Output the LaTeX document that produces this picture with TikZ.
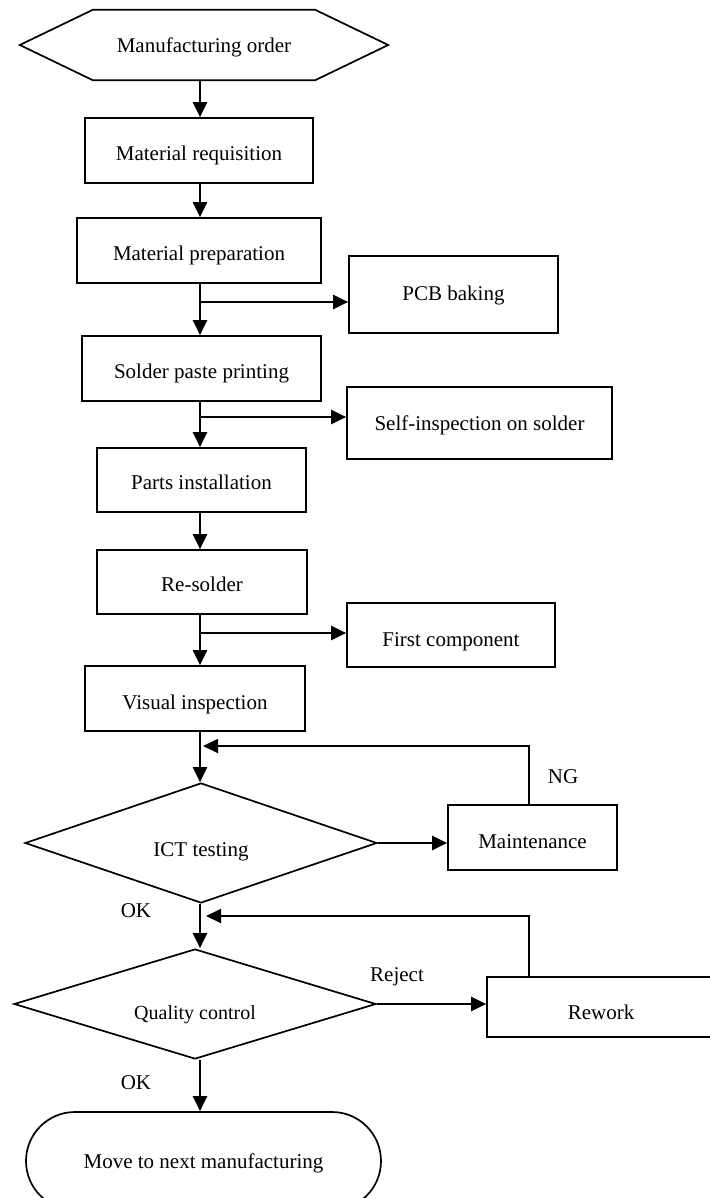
\documentclass[tikz,border=0pt]{standalone}
\usepackage{fontspec}
\setmainfont{Liberation Serif}
\usetikzlibrary{shapes.geometric,shapes.misc,arrows.meta,positioning}

\tikzset{every node/.style={font=\fontsize{21}{25}\selectfont},
    textdrop/.style={text height=#1,text depth=0pt}}
\tikzstyle{procbox}=[draw,rectangle,line width=1.7pt,minimum height=65pt,inner sep=0pt]
\tikzstyle{decide}=[draw,diamond,line width=1.7pt,inner sep=0pt,aspect=3]
\tikzstyle{flow}=[line width=2.2pt,-{Triangle[length=15pt,width=14pt]}]
\tikzstyle{back}=[line width=1.8pt,-{Triangle[length=15pt,width=14pt]}]

\begin{document}
\begin{tikzpicture}[x=1pt,y=-1pt]
    \useasboundingbox (0,0) rectangle (709,1198);
    \coordinate (trunk) at (200,0);

    % start
    \node (order) at (204,45) [minimum width=222pt,minimum height=70pt,inner sep=0pt,textdrop=16pt] {Manufacturing order};
    \draw [line width=1.7pt] (order.north west) -- (order.north east) -- ([xshift=73pt]order.east)
        -- (order.south east) -- (order.south west) -- ([xshift=-73pt]order.west) -- cycle;

    % main column
    \node [procbox,minimum width=228pt,textdrop=21pt] (req) at (199,150.5) {Material requisition};
    \node [procbox,minimum width=244pt,textdrop=20pt] (prep) at (199,250.5) {Material preparation};
    \node [procbox,minimum width=239pt,textdrop=20pt] (paste) at (201.5,368.5) {Solder paste printing};
    \node [procbox,minimum width=209pt,minimum height=64pt,textdrop=19pt] (parts) at (201.5,480) {Parts installation};
    \node [procbox,minimum width=210pt,minimum height=64pt,textdrop=19pt] (resolder) at (202,582) {Re-solder};
    \node [procbox,minimum width=220pt,textdrop=22pt] (visual) at (195,698.5) {Visual inspection};
    \node [decide,minimum width=352pt,minimum height=120pt,textdrop=27pt] (ict) at (201,843) {ICT testing};
    \node [decide,minimum width=362pt,minimum height=110pt,textdrop=30pt] (qc) at (195,1004) {\fontsize{20}{24}\selectfont Quality control};
    \node [draw,rounded rectangle,line width=1.7pt,minimum width=355pt,minimum height=98pt,inner sep=0pt,textdrop=15pt] (next) at (203.5,1161) {Move to next manufacturing};

    % side boxes
    \node [procbox,minimum width=209pt,minimum height=77pt,textdrop=12pt] (pcb) at (453.5,294.5) {PCB baking};
    \node [procbox,minimum width=265pt,minimum height=72pt,textdrop=15pt] (self) at (479.5,423) {Self-inspection on solder};
    \node [procbox,minimum width=208pt,minimum height=64pt,textdrop=23pt] (first) at (451,635) {First component};
    \node [procbox,minimum width=169pt,textdrop=22pt] (maint) at (532.5,837.5) {Maintenance};
    \node [procbox,minimum width=228pt,minimum height=60pt,textdrop=25pt] (rework) at (601,1007) {Rework};

    % labels
    \node (ng) at (563,777) {NG};
    \node (ok1) at (136,911) {OK};
    \node (reject) at (397,977) {Reject};
    \node (ok2) at (136,1083) {OK};

    % branch points
    \coordinate (b1) at (200,302);
    \coordinate (b2) at (200,417);
    \coordinate (b3) at (200,633);
    \coordinate (fb1) at (200,746);
    \coordinate (fb2) at (200,916);

    % connectors
    \draw [flow] (order.south -| trunk) -- (req.north -| trunk);
    \draw [flow] (req.south -| trunk) -- (prep.north -| trunk);
    \draw [flow] (prep.south -| trunk) -- (paste.north -| trunk);
    \draw [flow] (paste.south -| trunk) -- (parts.north -| trunk);
    \draw [flow] (parts.south -| trunk) -- (resolder.north -| trunk);
    \draw [flow] (resolder.south -| trunk) -- (visual.north -| trunk);
    \draw [flow] (visual.south -| trunk) -- (ict.north -| trunk);
    \draw [flow] (ict.south -| trunk) -- (qc.north -| trunk);
    \draw [flow] (qc.south -| trunk) -- (next.north -| trunk);

    \draw [flow] (b1) -- (pcb.west |- b1);
    \draw [flow] (b2) -- (self.west |- b2);
    \draw [flow] (b3) -- (first.west |- b3);
    \draw [flow] (ict.east) -- (maint.west |- ict.east);
    \draw [flow] (qc.east) -- (rework.west |- qc.east);

    \draw [back] ([xshift=-3.5pt]maint.north) |- ([xshift=3pt]fb1);
    \draw [back] ([xshift=43pt]rework.north west) |- ([xshift=6pt]fb2);
\end{tikzpicture}
\end{document}
